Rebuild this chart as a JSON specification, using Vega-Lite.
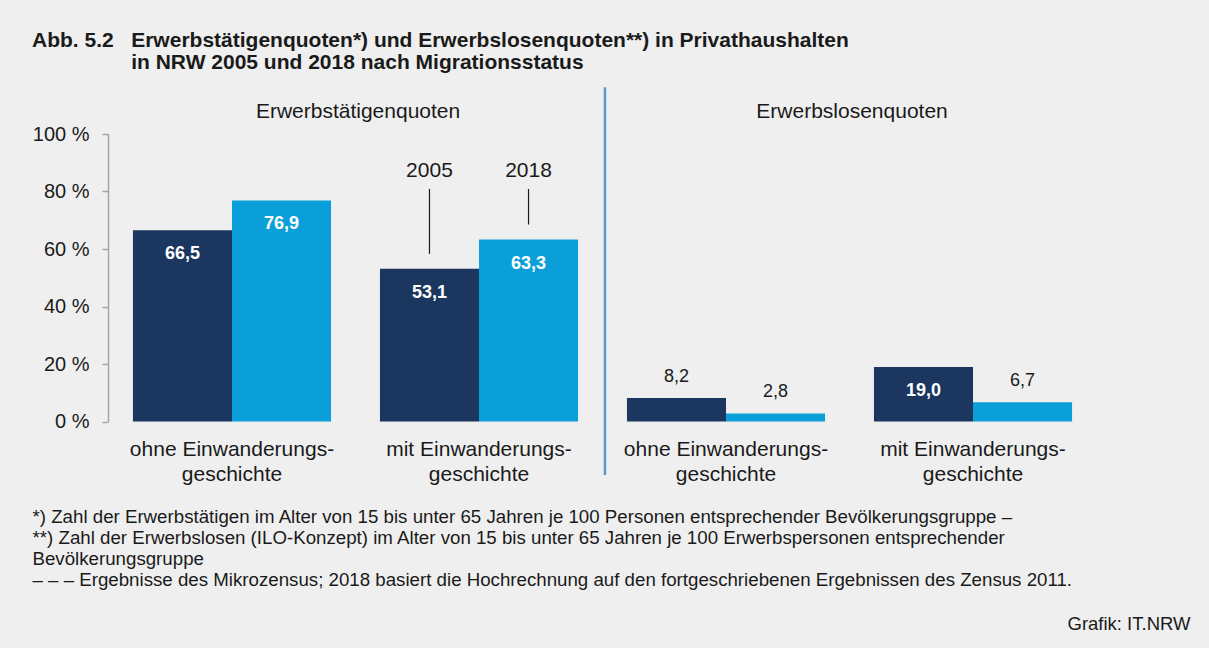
{
  "$schema": "https://vega.github.io/schema/vega-lite/v6.json",
  "autosize": {"type": "none"},
  "width": 989,
  "height": 287.5,
  "padding": {"left": 108, "top": 134, "right": 112, "bottom": 226.5},
  "background": "#efefef",
  "config": {
    "font": "Liberation Sans",
    "view": {"stroke": null},
    "locale": {"number": {"decimal": ",", "thousands": ".", "grouping": [3], "currency": ["", " €"]}}
  },
  "title": {
    "text": [
      "Abb. 5.2\u00a0\u00a0\u00a0Erwerbstätigenquoten*) und Erwerbslosenquoten**) in Privathaushalten",
      "\u200b\u00a0\u00a0\u00a0\u00a0\u00a0\u00a0\u00a0\u00a0\u00a0\u00a0\u00a0\u00a0\u00a0\u00a0\u00a0\u00a0\u00a0in NRW 2005 und 2018 nach Migrationsstatus"
    ],
    "anchor": "start",
    "frame": "group",
    "dx": -76,
    "offset": 13,
    "fontSize": 21,
    "fontWeight": "bold",
    "lineHeight": 22,
    "color": "#1a1a1a"
  },
  "datasets": {
    "quoten": [
      {"quote": "Erwerbstätigenquote", "status": "ohne", "kategorie": "Erwerbstätigenquote ohne", "jahr": "2005", "wert": 66.5},
      {"quote": "Erwerbstätigenquote", "status": "ohne", "kategorie": "Erwerbstätigenquote ohne", "jahr": "2018", "wert": 76.9},
      {"quote": "Erwerbstätigenquote", "status": "mit", "kategorie": "Erwerbstätigenquote mit", "jahr": "2005", "wert": 53.1},
      {"quote": "Erwerbstätigenquote", "status": "mit", "kategorie": "Erwerbstätigenquote mit", "jahr": "2018", "wert": 63.3},
      {"quote": "Erwerbslosenquote", "status": "ohne", "kategorie": "Erwerbslosenquote ohne", "jahr": "2005", "wert": 8.2},
      {"quote": "Erwerbslosenquote", "status": "ohne", "kategorie": "Erwerbslosenquote ohne", "jahr": "2018", "wert": 2.8},
      {"quote": "Erwerbslosenquote", "status": "mit", "kategorie": "Erwerbslosenquote mit", "jahr": "2005", "wert": 19.0},
      {"quote": "Erwerbslosenquote", "status": "mit", "kategorie": "Erwerbslosenquote mit", "jahr": "2018", "wert": 6.7}
    ],
    "ueberschriften": [
      {"kategorie": "Erwerbstätigenquote ohne", "titel": "Erwerbstätigenquoten"},
      {"kategorie": "Erwerbslosenquote ohne", "titel": "Erwerbslosenquoten"}
    ],
    "trenner": [
      {"kategorie": "Erwerbslosenquote ohne"}
    ]
  },
  "layer": [
    {
      "data": {"name": "quoten"},
      "mark": {"type": "bar"},
      "encoding": {
        "x": {
          "field": "kategorie", "type": "nominal",
          "scale": {"domain": ["Erwerbstätigenquote ohne", "Erwerbstätigenquote mit", "Erwerbslosenquote ohne", "Erwerbslosenquote mit"], "paddingInner": 0.198, "paddingOuter": 0.101},
          "axis": {
            "labelExpr": "indexof(datum.value, 'ohne') >= 0 ? ['ohne Einwanderungs-', 'geschichte'] : ['mit Einwanderungs-', 'geschichte']",
            "labelAngle": 0,
            "labelFontSize": 21,
            "labelLineHeight": 25,
            "labelLimit": 0,
            "labelColor": "#1a1a1a",
            "labelPadding": 17,
            "ticks": false,
            "tickSize": 0,
            "domain": false,
            "title": [
              "*) Zahl der Erwerbstätigen im Alter von 15 bis unter 65 Jahren je 100 Personen entsprechender Bevölkerungsgruppe –",
              "**) Zahl der Erwerbslosen (ILO-Konzept) im Alter von 15 bis unter 65 Jahren je 100 Erwerbspersonen entsprechender",
              "Bevölkerungsgruppe",
              "– – – Ergebnisse des Mikrozensus; 2018 basiert die Hochrechnung auf den fortgeschriebenen Ergebnissen des Zensus 2011."
            ],
            "titleX": -76,
            "titleY": 86,
            "titleAlign": "left",
            "titleAnchor": "start",
            "titleBaseline": "top",
            "titleFontSize": 18.7,
            "titleFontWeight": "normal",
            "titleLineHeight": 21,
            "titleLimit": 0,
            "titleColor": "#1a1a1a"
          }
        },
        "xOffset": {"field": "jahr", "type": "nominal", "scale": {"domain": ["2005", "2018"], "paddingInner": 0, "paddingOuter": 0}},
        "y": {
          "field": "wert", "type": "quantitative",
          "scale": {"domain": [0, 100], "nice": false},
          "axis": {
            "values": [0, 20, 40, 60, 80, 100],
            "labelExpr": "datum.value + ' %'",
            "grid": false,
            "domainColor": "#a6a6a6",
            "domainWidth": 1.5,
            "tickColor": "#a6a6a6",
            "tickWidth": 1.5,
            "tickSize": 6,
            "labelFontSize": 20,
            "labelColor": "#1a1a1a",
            "labelPadding": 13,
            "title": "Grafik: IT.NRW",
            "titleAngle": 0,
            "titleX": 1082,
            "titleY": 489,
            "titleAlign": "right",
            "titleBaseline": "middle",
            "titleFontSize": 18.5,
            "titleFontWeight": "normal",
            "titleColor": "#1a1a1a"
          }
        },
        "color": {"field": "jahr", "type": "nominal", "scale": {"domain": ["2005", "2018"], "range": ["#1b375f", "#0b9fda"]}, "legend": null}
      }
    },
    {
      "data": {"name": "quoten"},
      "transform": [{"filter": "datum.wert > 10"}],
      "mark": {"type": "text", "color": "white", "fontWeight": "bold", "fontSize": 18, "baseline": "middle", "dy": 24},
      "encoding": {
        "x": {"field": "kategorie", "type": "nominal"},
        "xOffset": {"field": "jahr", "type": "nominal"},
        "y": {"field": "wert", "type": "quantitative"},
        "text": {"field": "wert", "type": "quantitative", "format": ".1f"}
      }
    },
    {
      "data": {"name": "quoten"},
      "transform": [{"filter": "datum.wert <= 10"}],
      "mark": {"type": "text", "color": "#1a1a1a", "fontSize": 18, "baseline": "middle", "dy": -21},
      "encoding": {
        "x": {"field": "kategorie", "type": "nominal"},
        "xOffset": {"field": "jahr", "type": "nominal"},
        "y": {"field": "wert", "type": "quantitative"},
        "text": {"field": "wert", "type": "quantitative", "format": ".1f"}
      }
    },
    {
      "data": {"name": "quoten"},
      "transform": [{"filter": "datum.kategorie == 'Erwerbstätigenquote mit'"}],
      "mark": {"type": "rule", "color": "#1a1a1a", "strokeWidth": 1.2, "yOffset": -15},
      "encoding": {
        "x": {"field": "kategorie", "type": "nominal"},
        "xOffset": {"field": "jahr", "type": "nominal"},
        "y": {"field": "wert", "type": "quantitative"},
        "y2": {"datum": 80.9}
      }
    },
    {
      "data": {"name": "quoten"},
      "transform": [{"filter": "datum.kategorie == 'Erwerbstätigenquote mit'"}],
      "mark": {"type": "text", "color": "#1a1a1a", "fontSize": 21, "baseline": "alphabetic"},
      "encoding": {
        "x": {"field": "kategorie", "type": "nominal"},
        "xOffset": {"field": "jahr", "type": "nominal"},
        "y": {"datum": 85.1, "type": "quantitative"},
        "text": {"field": "jahr", "type": "nominal"}
      }
    },
    {
      "data": {"name": "ueberschriften"},
      "mark": {"type": "text", "color": "#1a1a1a", "fontSize": 21, "baseline": "alphabetic", "dx": 27},
      "encoding": {
        "x": {"field": "kategorie", "type": "nominal", "bandPosition": 1},
        "y": {"datum": 105.7, "type": "quantitative"},
        "text": {"field": "titel", "type": "nominal"}
      }
    },
    {
      "data": {"name": "trenner"},
      "mark": {"type": "rule", "color": "#5f96c8", "strokeWidth": 2.5, "xOffset": -22},
      "encoding": {
        "x": {"field": "kategorie", "type": "nominal", "bandPosition": 0},
        "y": {"datum": 116.3, "type": "quantitative"},
        "y2": {"datum": -18.6}
      }
    }
  ]
}
